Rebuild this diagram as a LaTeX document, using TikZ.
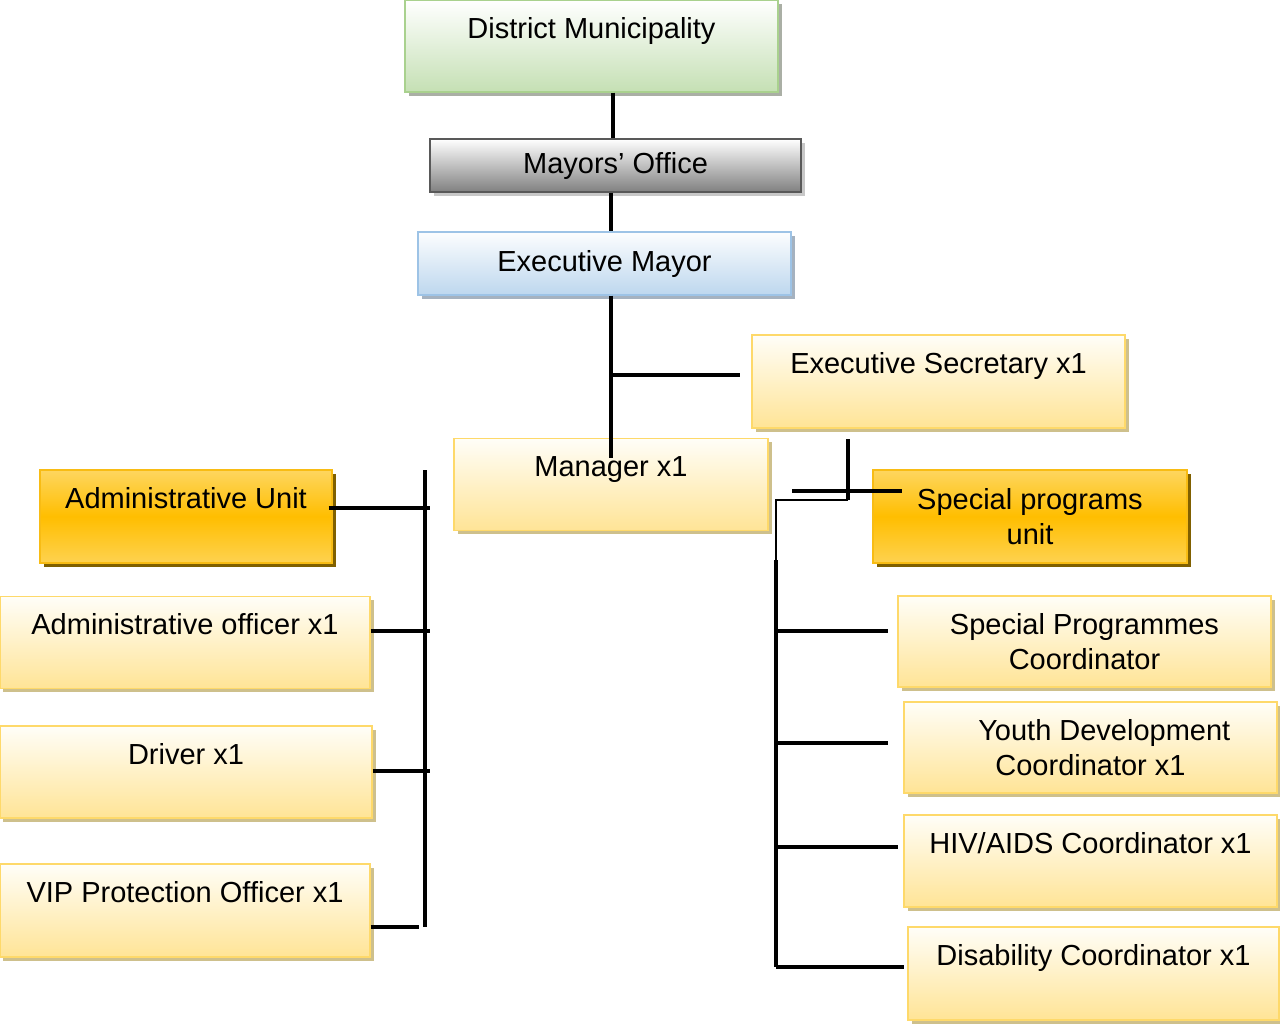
\documentclass[tikz,border=0pt]{standalone}
\usepackage{fontspec}
\setmainfont{Liberation Sans}
\usetikzlibrary{shadows}

\definecolor{yelTop}{RGB}{255,254,248}
\definecolor{yelBot}{RGB}{255,228,150}
\definecolor{yelLine}{RGB}{254,217,106}
\definecolor{yelShad}{RGB}{206,192,140}
\definecolor{orgTop}{RGB}{254,214,95}
\definecolor{orgMid}{RGB}{255,190,0}
\definecolor{orgBot}{RGB}{254,210,80}
\definecolor{orgLine}{RGB}{248,188,20}
\definecolor{orgShad}{RGB}{128,96,0}
\definecolor{grnBot}{RGB}{197,224,180}
\definecolor{grnLine}{RGB}{169,209,142}
\definecolor{grnShad}{RGB}{170,175,165}
\definecolor{gryBot}{RGB}{128,128,128}
\definecolor{gryLine}{RGB}{89,89,89}
\definecolor{gryShad}{RGB}{200,200,200}
\definecolor{bluBot}{RGB}{189,215,238}
\definecolor{bluLine}{RGB}{157,195,230}
\definecolor{bluShad}{RGB}{165,178,192}

\tikzset{
	unitbox/.style={rectangle, line width=0.8pt, inner sep=0pt, align=center,
		font=\fontsize{16.5}{19.5}\selectfont},
	boxsize/.style 2 args={minimum width=#1*0.02cm, minimum height=#2*0.02cm},
	toptext/.style={text height=0.76cm, text depth=1.08cm},
	yelbox/.style={unitbox, draw=yelLine, top color=yelTop, bottom color=yelBot,
		drop shadow={shadow xshift=0.07cm, shadow yshift=-0.07cm, fill=yelShad, opacity=1}},
	orgbox/.style={unitbox, draw=orgLine, top color=orgTop, bottom color=orgBot, middle color=orgMid,
		drop shadow={shadow xshift=0.07cm, shadow yshift=-0.07cm, fill=orgShad, opacity=1}},
	grnbox/.style={unitbox, draw=grnLine, top color=white, bottom color=grnBot,
		drop shadow={shadow xshift=0.07cm, shadow yshift=-0.07cm, fill=grnShad, opacity=1}},
	grybox/.style={unitbox, draw=gryLine, top color=white, bottom color=gryBot,
		drop shadow={shadow xshift=0.07cm, shadow yshift=-0.07cm, fill=gryShad, opacity=1}},
	blubox/.style={unitbox, draw=bluLine, top color=white!95!bluBot, bottom color=bluBot,
		drop shadow={shadow xshift=0.07cm, shadow yshift=-0.07cm, fill=bluShad, opacity=1}},
	link/.style={line width=1.9pt, black},
	thinlink/.style={line width=0.9pt, black}
}

\begin{document}
\begin{tikzpicture}[x=0.02cm, y=-0.02cm]

\useasboundingbox (0,0) rectangle (1280,1025);

%top of the chart
\node[grnbox, boxsize={373}{92}, toptext] (dm)  at (591.5,46)  {District Municipality};
\node[grybox, boxsize={371}{53}]          (mo)  at (615.5,165.5) {Mayors’ Office};
\node[blubox, boxsize={373}{63}]          (em)  at (604.5,263.5) {Executive Mayor};
\node[yelbox, boxsize={373}{93}, toptext] (es)  at (938.5,381.5) {Executive Secretary x1};
\node[yelbox, boxsize={314}{91}, toptext] (mgr) at (611,484.5)   {Manager x1};

%left side
\node[orgbox, boxsize={292}{93}, toptext] (au)  at (186,516.5) {Administrative Unit};
\node[yelbox, boxsize={370}{91}, toptext] (ao)  at (185,642.5) {Administrative officer x1};
\node[yelbox, boxsize={372}{92}, toptext] (drv) at (186,772)   {Driver x1};
\node[yelbox, boxsize={370}{93}, toptext] (vip) at (185,910.5) {VIP Protection Officer x1};

%right side
\node[orgbox, boxsize={314}{93}]          (spu) at (1030,516.5)   {Special programs\\unit};
\node[yelbox, boxsize={373}{91}]          (spc) at (1084.5,641.5) {Special Programmes\\Coordinator};
\node[yelbox, boxsize={373}{91}]          (ydc) at (1090.5,747.5) {\hspace*{0.55cm}Youth Development\\Coordinator x1};
\node[yelbox, boxsize={373}{92}, toptext] (hiv) at (1090.5,861)   {HIV/AIDS Coordinator x1};
\node[yelbox, boxsize={371}{93}, toptext] (dis) at (1093.5,973.5) {Disability Coordinator x1};

%line ends
\coordinate (topspine) at (613,0);
\coordinate (spine)    at (611,0);
\coordinate (mgrtap)   at (611,458);		%runs into the manager box
\coordinate (estap)    at (740,375);
\coordinate (lbustop)  at (425,470);		%left bus
\coordinate (lbusbot)  at (425,927);
\coordinate (autap)    at (430,508);
\coordinate (aotap)    at (430,631);
\coordinate (drvtap)   at (430,771);
\coordinate (viptap)   at (419,927);
\coordinate (esdrop)   at (848,439);		%right bus
\coordinate (elbow)    at (848,500);
\coordinate (rbustop)  at (776,500);
\coordinate (rbusmid)  at (776,560);
\coordinate (rbusbot)  at (776,967);
\coordinate (sputap)   at (792,491);
\coordinate (spuend)   at (902,491);
\coordinate (spctap)   at (888,631);
\coordinate (ydctap)   at (888,743);
\coordinate (hivtap)   at (898,847);
\coordinate (distap)   at (904,967);

%spine
\draw[link] (topspine |- dm.south) -- (topspine |- mo.north);
\draw[link] (spine |- mo.south) -- (spine |- em.north);
\draw[link] (spine |- em.south) -- (mgrtap);
\draw[link] (spine |- estap) -- (estap);

%left bus
\draw[link] (lbustop) -- (lbusbot);
\draw[link] ([xshift=-0.08cm]autap -| au.east) -- (autap);
\draw[link] (aotap -| ao.east) -- (aotap);
\draw[link] (drvtap -| drv.east) -- (drvtap);
\draw[link] (viptap -| vip.east) -- (viptap);

%right bus
\draw[link] (esdrop) -- (elbow);
\draw[thinlink] (elbow) -- (rbustop) -- (rbusmid);
\draw[link] (rbusmid) -- (rbusbot);
\draw[link] (sputap) -- (spuend);
\draw[link] (spctap -| rbustop) -- (spctap);
\draw[link] (ydctap -| rbustop) -- (ydctap);
\draw[link] (hivtap -| rbustop) -- (hivtap);
\draw[link] (rbusbot) -- (distap);

\end{tikzpicture}
\end{document}
